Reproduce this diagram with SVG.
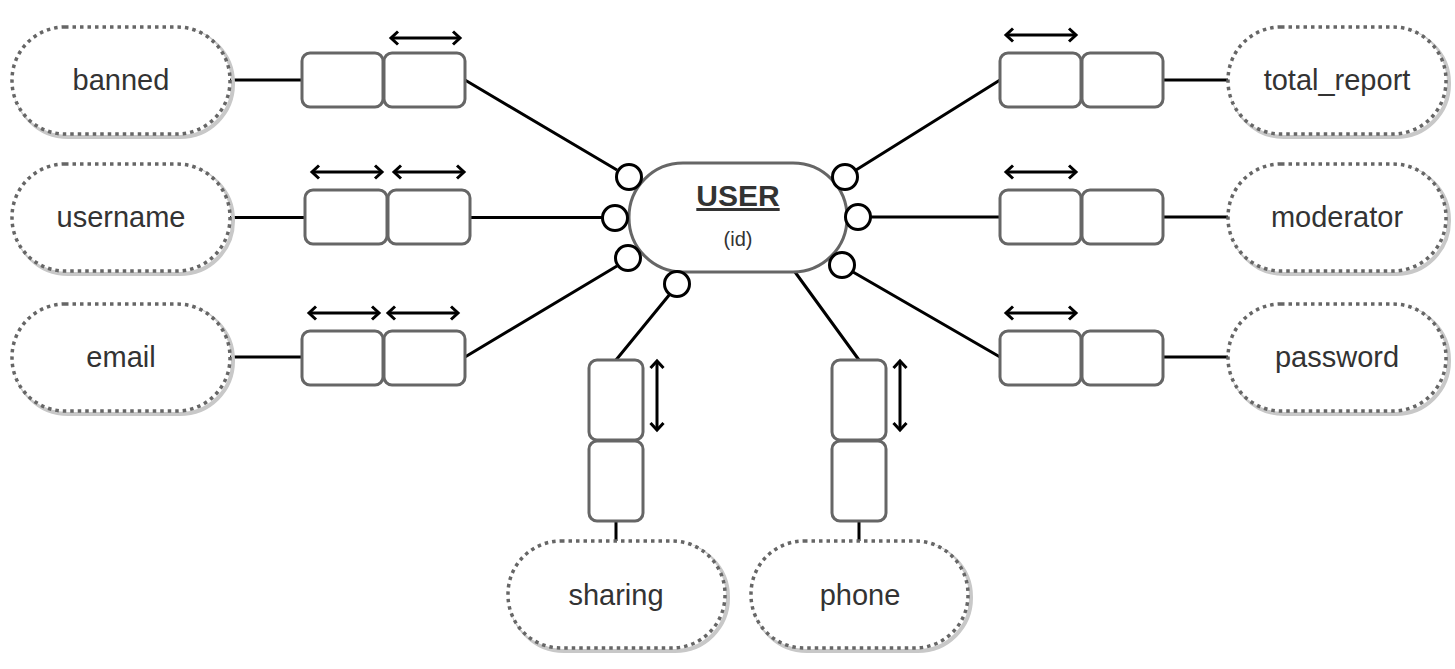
<svg xmlns="http://www.w3.org/2000/svg" width="1455" height="669" viewBox="0 0 1455 669">
<style>
.attr{fill:#fff;stroke:#666;stroke-width:3.5;stroke-dasharray:3.5 4}
.shadow{fill:none;stroke:#c8c8c8;stroke-width:4}
.box{fill:#fff;stroke:#666;stroke-width:3}
.lbl{font-family:"Liberation Sans",Arial,sans-serif;font-size:29px;fill:#333;text-anchor:middle;dominant-baseline:central}
.ln{stroke:#000;stroke-width:3;fill:none}
.arr{stroke:#000;stroke-width:3;fill:none;marker-start:url(#ah);marker-end:url(#ah)}
.opt{fill:#fff;stroke:#000;stroke-width:3}
</style>
<defs>
<marker id="ah" viewBox="0 0 16 16" refX="13" refY="8" markerWidth="16" markerHeight="16" orient="auto-start-reverse" markerUnits="userSpaceOnUse">
<path d="M6,1.5 L13,8 L6,14.5" fill="none" stroke="#000" stroke-width="3"/>
</marker>
</defs>
<g id="connectors">
<path class="ln" d="M230,80 H302 M465,80 L617,170"/>
<path class="ln" d="M230,217.5 H305 M470,217.5 H603"/>
<path class="ln" d="M230,357 H302 M465,357 L617,266"/>
<path class="ln" d="M1163,80 H1228 M1000,80 L856,170"/>
<path class="ln" d="M1163,217 H1228 M1000,217 H871"/>
<path class="ln" d="M1163,357 H1228 M1000,357 L853,272"/>
<path class="ln" d="M616,360 L670,294 M616,522 V541"/>
<path class="ln" d="M859,360 L795,272 M859,521 V541"/>
<path class="arr" d="M391,38 H460"/>
<path class="arr" d="M312,172 H382"/>
<path class="arr" d="M394,172 H464"/>
<path class="arr" d="M309,313 H379"/>
<path class="arr" d="M388,313 H458"/>
<path class="arr" d="M1006,35 H1076"/>
<path class="arr" d="M1006,172 H1076"/>
<path class="arr" d="M1006,313 H1076"/>
<path class="arr" d="M657,361 V430"/>
<path class="arr" d="M900,361 V430"/>
</g>
<g id="boxes">
<rect class="box" x="302" y="53" width="81" height="54" rx="8"/>
<rect class="box" x="384" y="53" width="81" height="54" rx="8"/>
<rect class="box" x="305" y="190" width="82" height="54" rx="8"/>
<rect class="box" x="388" y="190" width="82" height="54" rx="8"/>
<rect class="box" x="302" y="331" width="81" height="54" rx="8"/>
<rect class="box" x="384" y="331" width="81" height="54" rx="8"/>
<rect class="box" x="1000" y="53" width="81" height="54" rx="8"/>
<rect class="box" x="1082" y="53" width="81" height="54" rx="8"/>
<rect class="box" x="1000" y="190" width="81" height="54" rx="8"/>
<rect class="box" x="1082" y="190" width="81" height="54" rx="8"/>
<rect class="box" x="1000" y="331" width="81" height="54" rx="8"/>
<rect class="box" x="1082" y="331" width="81" height="54" rx="8"/>
<rect class="box" x="589" y="360" width="54" height="80" rx="8"/>
<rect class="box" x="589" y="441" width="54" height="80" rx="8"/>
<rect class="box" x="832" y="360" width="54" height="80" rx="8"/>
<rect class="box" x="832" y="441" width="54" height="80" rx="8"/>
</g>
<g id="banned"><rect class="shadow" x="15" y="30" width="218" height="107" rx="53"/><rect class="attr" x="12" y="27" width="218" height="107" rx="53"/><text class="lbl" x="121" y="80">banned</text></g>
<g id="username"><rect class="shadow" x="15" y="167" width="218" height="107" rx="53"/><rect class="attr" x="12" y="164" width="218" height="107" rx="53"/><text class="lbl" x="121" y="217">username</text></g>
<g id="email"><rect class="shadow" x="15" y="307" width="218" height="107" rx="53"/><rect class="attr" x="12" y="304" width="218" height="107" rx="53"/><text class="lbl" x="121" y="357">email</text></g>
<g id="total_report"><rect class="shadow" x="1231" y="30" width="218" height="107" rx="53"/><rect class="attr" x="1228" y="27" width="218" height="107" rx="53"/><text class="lbl" x="1337" y="80">total_report</text></g>
<g id="moderator"><rect class="shadow" x="1231" y="167" width="218" height="107" rx="53"/><rect class="attr" x="1228" y="164" width="218" height="107" rx="53"/><text class="lbl" x="1337" y="217">moderator</text></g>
<g id="password"><rect class="shadow" x="1231" y="307" width="218" height="107" rx="53"/><rect class="attr" x="1228" y="304" width="218" height="107" rx="53"/><text class="lbl" x="1337" y="357">password</text></g>
<g id="sharing"><rect class="shadow" x="511" y="544" width="217" height="107" rx="53"/><rect class="attr" x="508" y="541" width="217" height="107" rx="53"/><text class="lbl" x="616" y="595">sharing</text></g>
<g id="phone"><rect class="shadow" x="754" y="544" width="217" height="107" rx="53"/><rect class="attr" x="751" y="541" width="217" height="107" rx="53"/><text class="lbl" x="860" y="595">phone</text></g>
<g id="user">
<rect x="629" y="163" width="218" height="109" rx="54" fill="#fff" stroke="#666" stroke-width="3"/>
<text x="738" y="206" font-family="'Liberation Sans',Arial,sans-serif" font-size="30" font-weight="bold" fill="#333" text-anchor="middle" text-decoration="underline">USER</text>
<text x="738" y="246" font-family="'Liberation Sans',Arial,sans-serif" font-size="20" fill="#333" text-anchor="middle">(id)</text>
</g>
<g id="optional-markers">
<circle class="opt" cx="629" cy="177" r="12.5"/>
<circle class="opt" cx="615" cy="218" r="12.5"/>
<circle class="opt" cx="628" cy="258" r="12.5"/>
<circle class="opt" cx="677" cy="284" r="12.5"/>
<circle class="opt" cx="845" cy="177" r="12.5"/>
<circle class="opt" cx="858" cy="217" r="12.5"/>
<circle class="opt" cx="842" cy="265" r="12.5"/>
</g>
</svg>
